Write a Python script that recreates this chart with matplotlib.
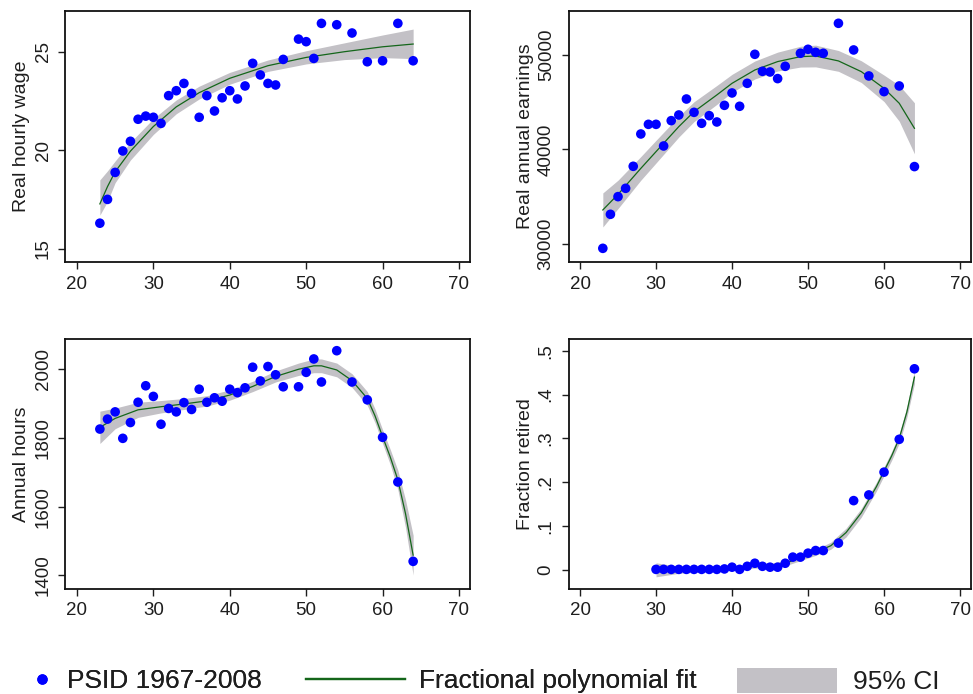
import matplotlib
matplotlib.use("Agg")
import matplotlib.pyplot as plt
from matplotlib.lines import Line2D
from matplotlib.patches import Patch

plt.rcParams['font.family'] = ['Liberation Sans', 'DejaVu Sans']

# ---------------- data ----------------
ages = [23, 24, 25, 26, 27, 28, 29, 30, 31, 32, 33, 34, 35, 36, 37, 38, 39, 40,
        41, 42, 43, 44, 45, 46, 47, 49, 50, 51, 52, 54, 56, 58, 60, 62, 64]

wage = [16.29, 17.50, 18.87, 19.96, 20.45, 21.57, 21.73, 21.67, 21.36, 22.77,
        23.02, 23.39, 22.88, 21.67, 22.77, 21.99, 22.66, 23.02, 22.60, 23.26,
        24.41, 23.82, 23.39, 23.31, 24.61, 25.64, 25.51, 24.66, 26.44, 26.37,
        25.95, 24.49, 24.54, 26.44, 24.54]

earnings = [29540, 33140, 35010, 35890, 38220, 41640, 42660, 42660, 40370, 43050,
            43650, 45340, 43930, 42770, 43580, 42910, 44670, 45980, 44570, 47000,
            50070, 48270, 48200, 47500, 48800, 50180, 50600, 50280, 50180, 53350,
            50530, 47780, 46120, 46720, 38190]

hours = [1826, 1855, 1876, 1799, 1845, 1904, 1952, 1921, 1840, 1886,
         1876, 1903, 1883, 1942, 1904, 1917, 1907, 1942, 1932, 1946,
         2006, 1966, 2008, 1984, 1949, 1949, 1991, 2030, 1963, 2054,
         1963, 1911, 1802, 1672, 1441]

ret_ages = [30, 31, 32, 33, 34, 35, 36, 37, 38, 39, 40, 41, 42, 43, 44, 45, 46,
            47, 48, 49, 50, 51, 52, 54, 56, 58, 60, 62, 64]
retired = [0.001, 0.001, 0.001, 0.001, 0.001, 0.001, 0.001, 0.001, 0.001, 0.002,
           0.006, 0.001, 0.008, 0.015, 0.008, 0.006, 0.006, 0.015, 0.029, 0.029,
           0.038, 0.044, 0.044, 0.061, 0.158, 0.171, 0.223, 0.298, 0.459]

# fractional polynomial fits and 95% CI
wage_fit_age = [23, 24, 25, 27, 30, 33, 36, 40, 45, 50, 55, 60, 64]
wage_fit = [17.27, 18.15, 18.90, 19.95, 21.20, 22.20, 22.92, 23.65, 24.29, 24.71, 25.00, 25.25, 25.39]
wage_hi = [18.49, 18.95, 19.45, 20.40, 21.60, 22.55, 23.25, 23.95, 24.58, 25.05, 25.45, 25.85, 26.15]
wage_lo = [16.70, 17.40, 18.35, 19.50, 20.80, 21.85, 22.60, 23.35, 24.00, 24.38, 24.60, 24.70, 24.65]

earn_fit_age = [23, 25, 28, 30, 33, 35, 38, 40, 43, 46, 49, 51, 54, 57, 60, 62, 64]
earn_fit = [33600, 35250, 38000, 39770, 42420, 44000, 45770, 47000, 48410, 49300,
            49820, 49890, 49370, 48240, 46470, 44890, 42240]
earn_hi = [35400, 36750, 39250, 40970, 43520, 45050, 46770, 47950, 49360, 50300,
           50920, 51040, 50470, 49390, 47870, 46790, 44940]
earn_lo = [31800, 33750, 36750, 38570, 41320, 42950, 44770, 46050, 47460, 48300,
           48720, 48740, 48270, 47090, 45070, 42990, 39540]

hours_fit_age = [23, 25, 28, 31, 34, 37, 40, 43, 46, 49, 51, 52, 54, 56, 58, 59,
                 60, 61, 62, 63, 64]
hours_fit = [1831, 1857, 1882, 1891, 1899, 1908, 1925, 1950, 1979, 2000, 2010,
             2010, 1998, 1967, 1915, 1865, 1804, 1745, 1678, 1580, 1459]
hours_hi = [1878, 1887, 1904, 1909, 1915, 1923, 1940, 1965, 1995, 2018, 2030,
            2030, 2018, 1987, 1935, 1885, 1824, 1767, 1706, 1620, 1517]
hours_lo = [1784, 1827, 1860, 1873, 1883, 1893, 1910, 1935, 1963, 1982, 1990,
            1990, 1978, 1947, 1895, 1845, 1784, 1723, 1650, 1540, 1401]

ret_fit_age = [30, 33, 36, 39, 41, 43, 45, 47, 49, 51, 53, 55, 57, 59, 61, 62, 63, 64]
ret_fit = [0.000, 0.000, 0.001, 0.003, 0.006, 0.010, 0.009, 0.015, 0.027, 0.040,
           0.055, 0.085, 0.130, 0.190, 0.260, 0.300, 0.360, 0.440]
ret_hi = [0.016, 0.008, 0.007, 0.008, 0.011, 0.016, 0.015, 0.021, 0.033, 0.047,
          0.063, 0.095, 0.140, 0.200, 0.270, 0.311, 0.372, 0.455]
ret_lo = [-0.016, -0.008, -0.005, -0.002, 0.001, 0.004, 0.003, 0.009, 0.021, 0.033,
          0.047, 0.075, 0.120, 0.180, 0.250, 0.289, 0.348, 0.425]

x_ticks = [20, 30, 40, 50, 60, 70]
wage_ticks = [15, 20, 25]
earn_ticks = [30000, 40000, 50000]
hours_ticks = [1400, 1600, 1800, 2000]
ret_ticks = [0, 0.1, 0.2, 0.3, 0.4, 0.5]
ret_tick_labels = ["0", ".1", ".2", ".3", ".4", ".5"]

ylabels = ["Real hourly wage", "Real annual earnings", "Annual hours", "Fraction retired"]
legend_labels = ["PSID 1967-2008", "Fractional polynomial fit", "95% CI"]

# ---------------- styling ----------------
DOT = '#0000ff'
FIT = '#14661a'
BAND = '#c3c1c6'
TXT = '#1e1e1e'

fig = plt.figure(figsize=(9.73, 6.94), dpi=100)

positions = [
    [0.0673, 0.6225, 0.4162, 0.3617],
    [0.5844, 0.6225, 0.4140, 0.3617],
    [0.0673, 0.1520, 0.4162, 0.3595],
    [0.5844, 0.1520, 0.4140, 0.3595],
]
ylims = [(14.32, 27.07), (28095, 54656), (1362, 2088), (-0.0427, 0.527)]

panels = [
    (ages, wage, wage_fit_age, wage_fit, wage_lo, wage_hi, wage_ticks, [str(t) for t in wage_ticks]),
    (ages, earnings, earn_fit_age, earn_fit, earn_lo, earn_hi, earn_ticks, [str(t) for t in earn_ticks]),
    (ages, hours, hours_fit_age, hours_fit, hours_lo, hours_hi, hours_ticks, [str(t) for t in hours_ticks]),
    (ret_ages, retired, ret_fit_age, ret_fit, ret_lo, ret_hi, ret_ticks, ret_tick_labels),
]

for i, (pos, (xa, ya, fa, fv, lo, hi, yt, ytl)) in enumerate(zip(positions, panels)):
    ax = fig.add_axes(pos)
    ax.fill_between(fa, lo, hi, color=BAND, linewidth=0, zorder=1)
    ax.plot(fa, fv, color=FIT, linewidth=0.9, zorder=2)
    ax.scatter(xa, ya, s=48, color=DOT, edgecolors='none', zorder=3)
    ax.set_xlim(18.5, 71.5)
    ax.set_ylim(*ylims[i])
    ax.set_xticks(x_ticks)
    ax.set_xticklabels([str(t) for t in x_ticks])
    ax.set_yticks(yt)
    ax.set_yticklabels(ytl)
    ax.tick_params(axis='both', direction='out', length=5, width=1.0, colors=TXT,
                   labelsize=13.5, pad=5)
    for lab in ax.get_yticklabels():
        lab.set_rotation(90)
        lab.set_va('center')
        lab.set_ha('right')
    ax.set_ylabel(ylabels[i], fontsize=14, color=TXT, labelpad=3)
    for sp in ax.spines.values():
        sp.set_linewidth(1.3)
        sp.set_color('#111111')

# ---------------- legend ----------------
fs = 19
y_leg = 0.0185
leg1 = fig.legend(handles=[Line2D([], [], linestyle='none', marker='o', markersize=7.5,
                                  color=DOT, markeredgecolor='none')],
                  labels=[legend_labels[0]], loc='center left',
                  bbox_to_anchor=(29 / 973, y_leg), frameon=False, fontsize=fs,
                  handlelength=1.0, handletextpad=0.45, borderpad=0, borderaxespad=0)
fig.add_artist(leg1)
leg2 = fig.legend(handles=[Line2D([], [], color=FIT, linewidth=1.6)],
                  labels=[legend_labels[1]], loc='center left',
                  bbox_to_anchor=(306 / 973, y_leg), frameon=False, fontsize=fs,
                  handlelength=3.75, handletextpad=0.55, borderpad=0, borderaxespad=0)
fig.add_artist(leg2)
leg3 = fig.legend(handles=[Patch(facecolor=BAND, edgecolor='none')],
                  labels=[legend_labels[2]], loc='center left',
                  bbox_to_anchor=(737 / 973, y_leg), frameon=False, fontsize=fs,
                  handlelength=3.8, handleheight=1.1, handletextpad=0.6,
                  borderpad=0, borderaxespad=0)
for leg in (leg1, leg2, leg3):
    for t in leg.get_texts():
        t.set_color(TXT)

fig.savefig("out.png", dpi=100)
